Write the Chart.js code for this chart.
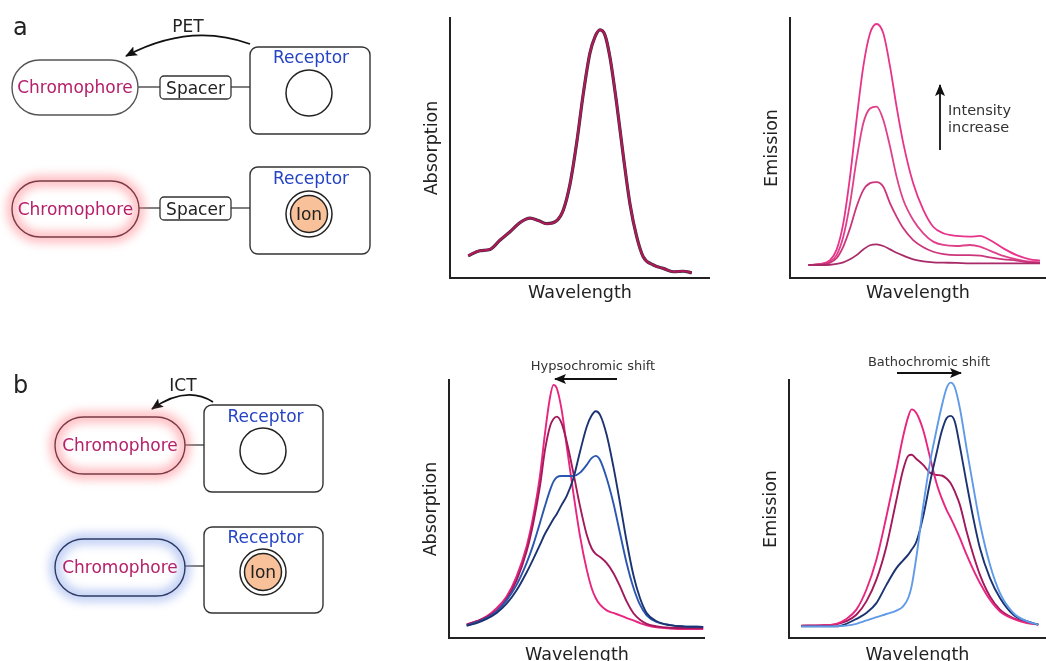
<!DOCTYPE html>
<html>
<head>
<meta charset="utf-8">
<script src="https://cdn.jsdelivr.net/npm/chart.js@4.4.1/dist/chart.umd.min.js"></script>
<style>
  html, body { margin:0; padding:0; background:#fff; width:1046px; height:661px; overflow:hidden; font-family:'DejaVu Sans', sans-serif; }
  canvas { position:absolute; }
  #overlay { position:absolute; left:0; top:0; pointer-events:none; }
</style>
</head>
<body>
<canvas id="c1" width="288" height="294" style="left:422px;top:10px"></canvas>
<canvas id="c2" width="284" height="294" style="left:762px;top:10px"></canvas>
<canvas id="c3" width="284" height="294" style="left:421px;top:372px"></canvas>
<canvas id="c4" width="285" height="294" style="left:761px;top:372px"></canvas>

<svg id="overlay" width="1046" height="661" xmlns="http://www.w3.org/2000/svg" font-family="DejaVu Sans, sans-serif">
  <defs>
    <marker id="ah" markerWidth="12" markerHeight="10" refX="11" refY="5" orient="auto" markerUnits="userSpaceOnUse">
      <path d="M0,0 L12,5 L0,10 L2.5,5 z" fill="#111"/>
    </marker>
    <filter id="blur" x="-40%" y="-60%" width="180%" height="220%">
      <feGaussianBlur stdDeviation="5.5"/>
    </filter>
  </defs>

  <!-- panel a -->
  <text x="13" y="35" font-size="24" fill="#222">a</text>
  <text x="188" y="32" font-size="17" fill="#222" text-anchor="middle">PET</text>
  <path d="M250,44 Q190,22 126,56" fill="none" stroke="#111" stroke-width="1.8" marker-end="url(#ah)"/>

  <line x1="138" y1="87" x2="160" y2="87" stroke="#555" stroke-width="1.5"/>
  <line x1="231" y1="87" x2="250" y2="87" stroke="#555" stroke-width="1.5"/>
  <rect x="12" y="60" width="126" height="55" rx="27.5" fill="#fff" stroke="#555" stroke-width="1.4"/>
  <text x="75" y="93" font-size="17" fill="#b5206a" text-anchor="middle">Chromophore</text>
  <rect x="160" y="76" width="71" height="23" rx="4" fill="#fff" stroke="#333" stroke-width="1.3"/>
  <text x="195.5" y="93.5" font-size="17" fill="#222" text-anchor="middle">Spacer</text>
  <rect x="250" y="47" width="120" height="87" rx="8" fill="#fff" stroke="#333" stroke-width="1.4"/>
  <text x="311" y="63" font-size="17" fill="#2544c4" text-anchor="middle">Receptor</text>
  <circle cx="309" cy="93" r="23" fill="#fff" stroke="#222" stroke-width="1.5"/>

  <line x1="139" y1="208" x2="160" y2="208" stroke="#555" stroke-width="1.5"/>
  <line x1="231" y1="208" x2="250" y2="208" stroke="#555" stroke-width="1.5"/>
  <rect x="12" y="181" width="127" height="56" rx="28" fill="#fff"/>
  <rect x="12" y="181" width="127" height="56" rx="28" fill="none" stroke="#ff8088" stroke-width="8" filter="url(#blur)" opacity="0.75"/>
  <rect x="12" y="181" width="127" height="56" rx="28" fill="none" stroke="#7a3a48" stroke-width="1.4"/>
  <text x="75.5" y="214.5" font-size="17" fill="#b5206a" text-anchor="middle">Chromophore</text>
  <rect x="160" y="197" width="71" height="23" rx="4" fill="#fff" stroke="#333" stroke-width="1.3"/>
  <text x="195.5" y="214.5" font-size="17" fill="#222" text-anchor="middle">Spacer</text>
  <rect x="250" y="167" width="120" height="87" rx="8" fill="#fff" stroke="#333" stroke-width="1.4"/>
  <text x="311" y="184" font-size="17" fill="#2544c4" text-anchor="middle">Receptor</text>
  <circle cx="309" cy="214" r="23" fill="#fff" stroke="#222" stroke-width="1.5"/>
  <circle cx="309" cy="214" r="18.5" fill="#f8c19a" stroke="#222" stroke-width="1.5"/>
  <text x="309" y="220" font-size="17" fill="#222" text-anchor="middle">Ion</text>

  <!-- panel b -->
  <text x="13" y="393" font-size="24" fill="#222">b</text>
  <text x="183" y="391" font-size="17" fill="#222" text-anchor="middle">ICT</text>
  <path d="M213,402 Q186,385 152,409" fill="none" stroke="#111" stroke-width="1.8" marker-end="url(#ah)"/>

  <line x1="185" y1="445" x2="204" y2="445" stroke="#555" stroke-width="1.5"/>
  <rect x="55" y="417" width="130" height="57" rx="28.5" fill="#fff"/>
  <rect x="55" y="417" width="130" height="57" rx="28.5" fill="none" stroke="#ff8088" stroke-width="8" filter="url(#blur)" opacity="0.75"/>
  <rect x="55" y="417" width="130" height="57" rx="28.5" fill="none" stroke="#7a3a48" stroke-width="1.4"/>
  <text x="120" y="451" font-size="17" fill="#b5206a" text-anchor="middle">Chromophore</text>
  <rect x="204" y="405" width="119" height="87" rx="8" fill="#fff" stroke="#333" stroke-width="1.4"/>
  <text x="265.5" y="422" font-size="17" fill="#2544c4" text-anchor="middle">Receptor</text>
  <circle cx="263" cy="451" r="23" fill="#fff" stroke="#222" stroke-width="1.5"/>

  <line x1="185" y1="566" x2="204" y2="566" stroke="#555" stroke-width="1.5"/>
  <rect x="55" y="539" width="130" height="57" rx="28.5" fill="#fff"/>
  <rect x="55" y="539" width="130" height="57" rx="28.5" fill="none" stroke="#86a2ea" stroke-width="8" filter="url(#blur)" opacity="0.75"/>
  <rect x="55" y="539" width="130" height="57" rx="28.5" fill="none" stroke="#2d3a66" stroke-width="1.4"/>
  <text x="120" y="572.5" font-size="17" fill="#b5206a" text-anchor="middle">Chromophore</text>
  <rect x="204" y="527" width="119" height="86" rx="8" fill="#fff" stroke="#333" stroke-width="1.4"/>
  <text x="265.5" y="543" font-size="17" fill="#2544c4" text-anchor="middle">Receptor</text>
  <circle cx="263" cy="572" r="23" fill="#fff" stroke="#222" stroke-width="1.5"/>
  <circle cx="263" cy="572" r="18.5" fill="#f8c19a" stroke="#222" stroke-width="1.5"/>
  <text x="263" y="578" font-size="17" fill="#222" text-anchor="middle">Ion</text>

  <!-- chart annotations -->
  <line x1="940" y1="150" x2="940" y2="85" stroke="#111" stroke-width="1.8" marker-end="url(#ah)"/>
  <text x="948" y="115" font-size="14.5" fill="#333">Intensity</text>
  <text x="948" y="132" font-size="14.5" fill="#333">increase</text>

  <text x="593" y="370" font-size="13" fill="#333" text-anchor="middle">Hypsochromic shift</text>
  <line x1="617" y1="379" x2="555" y2="379" stroke="#111" stroke-width="1.8" marker-end="url(#ah)"/>

  <text x="929" y="366" font-size="13" fill="#333" text-anchor="middle">Bathochromic shift</text>
  <line x1="897" y1="373" x2="961" y2="373" stroke="#111" stroke-width="1.8" marker-end="url(#ah)"/>
</svg>

<script>
// ---------- Data (arbitrary units: wavelength 0-100, signal 0-100) ----------
// (a) PET absorption: free receptor vs ion-bound (unchanged)
const petAbsWavelength = [7.0,11.5,15.4,19.2,23.1,26.9,30.8,34.0,37.2,41.0,43.6,46.2,48.7,51.3,53.8,55.8,57.7,59.6,61.5,64.1,66.7,69.2,71.8,74.3,78.2,82.0,85.9,89.7,93.0];
const petAbsFree  = [8.6,10.5,11.0,14.6,17.8,21.3,23.0,22.0,20.8,22.0,26.2,36.4,51.9,71.2,86.5,92.8,95.4,93.5,85.1,67.2,46.7,28.7,15.9,8.2,5.0,3.7,2.4,2.7,2.0];
const petAbsBound = [8.5,10.5,11.0,14.5,17.8,21.3,23.0,22.1,20.9,22.0,26.2,36.3,51.8,71.1,86.4,92.8,95.4,93.4,85.0,67.1,46.6,28.6,15.9,8.2,5.0,3.7,2.4,2.6,2.0];

// (a) PET emission: increasing ion concentration
const petEmWavelength = [7.1,11.5,15.4,17.9,20.5,23.1,25.6,28.2,30.8,33.3,35.9,38.5,41.0,43.6,47.4,51.3,55.1,59.0,64.1,69.2,73.1,76.9,82.1,87.2,92.3,96.2];
const petEm1 = [5.0,5.0,5.1,5.4,6.0,7.2,8.8,11.0,12.6,12.9,12.3,11.0,9.7,8.6,7.2,6.4,6.0,5.9,5.8,5.6,5.6,5.6,5.6,5.6,5.6,5.6];
const petEm2 = [5.0,5.1,5.9,7.6,12.1,19.1,27.4,33.8,36.5,36.9,35.1,28.7,23.6,19.1,14.6,11.8,10.1,9.2,8.8,8.8,8.6,7.9,7.2,6.7,6.0,5.9];
const petEm3 = [5.0,5.3,6.3,8.8,15.9,28.7,45.4,59.5,65.2,65.9,60.8,50.5,39.0,30.0,22.3,17.2,14.0,12.7,12.3,12.7,12.1,10.5,8.5,7.2,6.3,6.0];
const petEm4 = [5.0,5.4,6.9,10.8,21.0,39.0,60.8,81.3,94.1,97.7,94.1,81.3,65.9,51.8,36.4,26.2,19.7,17.2,16.2,15.9,16.2,14.6,11.4,8.8,7.2,6.7];

// (b) ICT absorption (hypsochromic shift)
const ictAbsWavelength = [6.9,10.8,14.7,18.6,22.5,26.4,30.3,32.9,35.5,37.5,39.5,40.8,42.1,44.0,46.0,48.6,51.2,53.8,55.7,57.3,59.0,61.6,64.2,66.8,69.4,72.0,74.6,77.2,81.1,86.3,91.5,99.3];
const ictAbsNavy   = [4.8,5.8,7.4,9.7,13.3,18.5,25.4,30.6,36.1,40.4,43.9,46.1,48.1,51.6,55.1,61.9,72.3,81.9,86.2,87.9,86.5,78.7,66.5,52.3,37.4,24.5,15.5,9.7,6.5,5.0,4.5,4.3];
const ictAbsBlue   = [4.8,6.1,7.7,10.3,14.6,20.6,29.0,36.1,44.5,51.2,57.4,60.6,62.3,62.8,62.8,62.8,64.1,67.1,69.7,70.6,69.0,61.9,52.3,40.6,29.0,19.7,12.9,8.8,6.2,5.0,4.5,4.3];
const ictAbsPurple = [5.2,6.5,8.1,10.7,15.1,22.3,33.5,44.5,58.7,72.9,82.2,84.9,85.8,83.2,76.1,63.9,51.0,40.0,34.8,32.6,31.4,29.0,25.2,20.0,14.2,9.7,7.1,5.5,4.5,4.0,3.9,3.9];
const ictAbsPink   = [5.2,6.5,8.4,11.6,16.1,23.9,35.5,47.1,62.6,79.4,93.5,98.1,96.8,88.4,74.2,56.1,39.4,26.5,19.4,15.5,12.9,10.7,9.7,8.8,7.7,6.8,5.8,4.9,4.1,3.7,3.5,3.5];

// (b) ICT emission (bathochromic shift)
const ictEmWavelength = [4.8,11.9,18.4,22.3,26.2,30.1,34.0,37.9,41.8,44.4,46.4,47.7,49.6,52.2,54.8,57.4,59.4,61.3,62.9,64.5,66.5,69.1,71.7,74.3,78.2,82.1,87.3,92.5,97.0];
const ictEmPink   = [4.8,4.9,5.5,7.4,11.0,18.7,30.3,47.1,65.2,78.1,85.8,88.6,87.1,80.6,70.3,60.0,54.2,49.7,46.5,43.2,38.7,32.3,26.5,21.3,14.8,10.3,7.4,5.8,5.2];
const ictEmPurple = [4.8,4.9,5.3,6.5,9.0,14.2,22.6,35.5,53.5,65.2,70.6,71.0,69.4,67.1,64.1,63.2,63.0,61.8,60.0,56.8,51.6,41.3,32.3,24.5,16.1,11.0,7.7,6.1,5.2];
const ictEmNavy   = [4.5,4.5,4.5,5.5,7.4,9.7,13.5,20.6,27.1,30.1,32.3,34.2,37.4,47.1,60.0,71.6,80.0,85.2,86.1,83.9,74.2,60.0,46.5,34.8,23.2,15.5,9.0,6.5,5.2];
const ictEmLight  = [4.5,4.5,4.5,4.8,5.5,6.8,8.1,9.3,10.6,12.3,15.5,20.0,31.6,51.0,67.7,80.6,89.7,96.8,99.0,97.2,89.0,73.5,58.7,44.5,28.4,17.4,9.7,6.5,5.2];

// ---------- Chart helpers ----------
const FONT = 'DejaVu Sans';
function pts(xs, ys) { return xs.map((x, i) => ({ x: x, y: ys[i] })); }
function ds(xs, ys, color, width) {
  return { data: pts(xs, ys), borderColor: color, borderWidth: width, pointRadius: 0,
           cubicInterpolationMode: 'monotone', fill: false };
}
function makeChart(id, yTitle, datasets, opts) {
  return new Chart(document.getElementById(id), {
    type: 'line',
    data: { datasets: datasets },
    options: {
      responsive: false, animation: false, devicePixelRatio: 1,
      layout: { padding: { top: 8, bottom: 0, left: 0, right: 0 } },
      plugins: { legend: { display: false }, tooltip: { enabled: false } },
      scales: {
        x: { type: 'linear', min: 0, max: opts.xMax,
             grid: { display: false, drawTicks: false }, ticks: { display: false },
             border: { display: true, color: '#222', width: 2 },
             title: { display: true, text: 'Wavelength', color: '#222',
                      font: { family: FONT, size: 17.5 }, padding: { top: opts.xTitlePad, bottom: 0 } } },
        y: { type: 'linear', min: 0, max: 100,
             grid: { display: false, drawTicks: false }, ticks: { display: false },
             border: { display: true, color: '#222', width: 2 },
             title: { display: true, text: yTitle, color: '#222',
                      font: { family: FONT, size: 17.5 }, padding: { top: 0, bottom: 7 } } }
      }
    }
  });
}

// Chart.js paints dataset 0 last (on top)
makeChart('c1', 'Absorption', [
  ds(petAbsWavelength, petAbsFree, '#b0185c', 2.2),
  ds(petAbsWavelength, petAbsBound, '#333333', 3.2)
], { xMax: 100, xTitlePad: 5 });

makeChart('c2', 'Emission', [
  ds(petEmWavelength, petEm1, '#a82a68', 1.8),
  ds(petEmWavelength, petEm2, '#cc357c', 1.8),
  ds(petEmWavelength, petEm3, '#de418a', 1.8),
  ds(petEmWavelength, petEm4, '#e8338a', 1.8)
], { xMax: 98.5, xTitlePad: 5 });

makeChart('c3', 'Absorption', [
  ds(ictAbsWavelength, ictAbsNavy, '#1b3370', 1.9),
  ds(ictAbsWavelength, ictAbsBlue, '#2b56b0', 1.9),
  ds(ictAbsWavelength, ictAbsPurple, '#a3195b', 1.9),
  ds(ictAbsWavelength, ictAbsPink, '#e8257f', 1.9)
], { xMax: 100, xTitlePad: 7 });

makeChart('c4', 'Emission', [
  ds(ictEmWavelength, ictEmLight, '#5f9ae8', 1.9),
  ds(ictEmWavelength, ictEmNavy, '#1b3370', 1.9),
  ds(ictEmWavelength, ictEmPink, '#e8257f', 1.9),
  ds(ictEmWavelength, ictEmPurple, '#a3195b', 1.9)
], { xMax: 100, xTitlePad: 7 });
</script>
</body>
</html>
